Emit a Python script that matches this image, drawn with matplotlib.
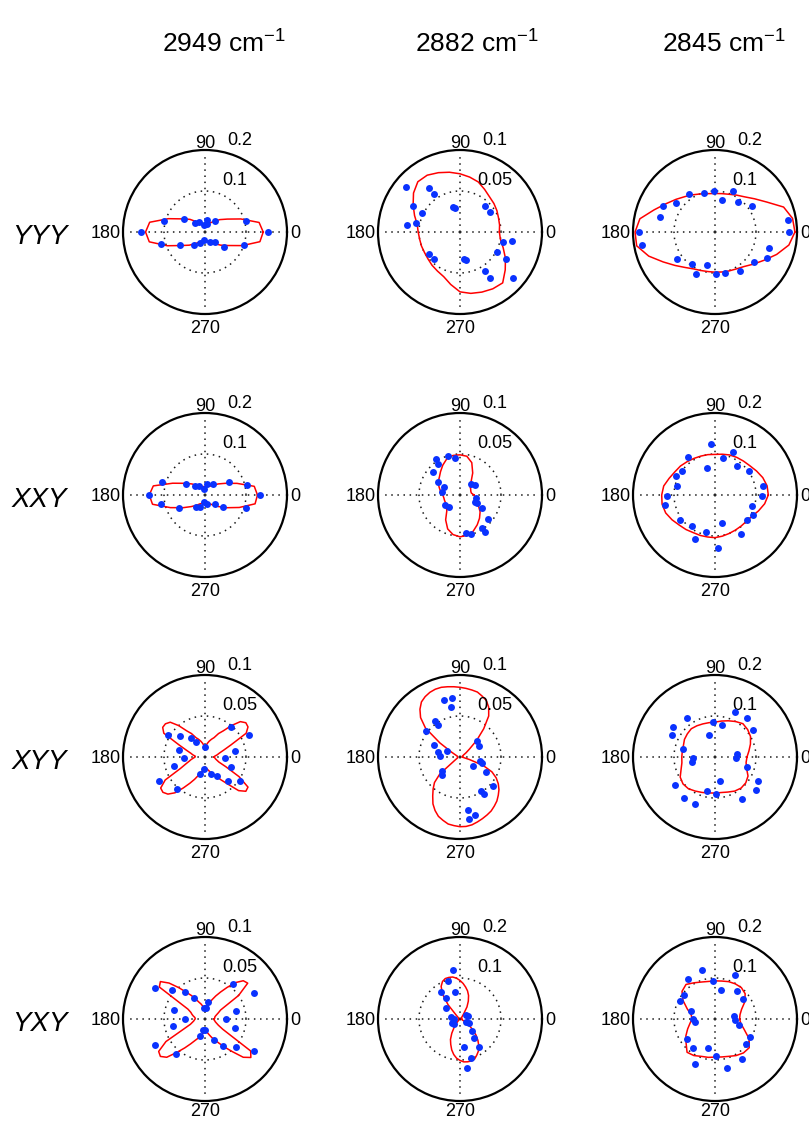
import numpy as np
import matplotlib
matplotlib.use('Agg')
import matplotlib.pyplot as plt

plt.rcParams['font.family'] = ['Liberation Sans', 'DejaVu Sans']
plt.rcParams['mathtext.fontset'] = 'custom'
plt.rcParams['mathtext.rm'] = 'Liberation Sans'
plt.rcParams['mathtext.it'] = 'Liberation Sans:italic'
plt.rcParams['mathtext.default'] = 'regular'

W, H = 809, 1121

# ---------------- categories ----------------
WAVENUMBERS = ['2949', '2882', '2845']
POLARIZATIONS = ['YYY', 'XXY', 'XYY', 'YXY']

# radial axis limits and radial tick labels per panel (row, col)
RMAX = [[0.2, 0.1, 0.2],
        [0.2, 0.1, 0.2],
        [0.1, 0.1, 0.2],
        [0.1, 0.2, 0.2]]
RTICK_OUTER = [['0.2', '0.1', '0.2'],
               ['0.2', '0.1', '0.2'],
               ['0.1', '0.1', '0.2'],
               ['0.1', '0.2', '0.2']]
RTICK_INNER = [['0.1', '0.05', '0.1'],
               ['0.1', '0.05', '0.1'],
               ['0.05', '0.05', '0.1'],
               ['0.05', '0.1', '0.1']]

# ---------------- measured points (angle in degrees, intensity) ----------------
ANG_2949_YYY = [180, 0, 165, 148, 137, 121, 82, 96, 49, 15, 195, 208, 231, 246, 265, 297, 315, 322, 342, 73]
R_2949_YYY = [0.157, 0.154, 0.103, 0.060, 0.033, 0.028, 0.029, 0.016, 0.037, 0.103, 0.111, 0.069, 0.042,
              0.030, 0.019, 0.027, 0.035, 0.060, 0.101, 0.020]

ANG_2882_YYY = [140, 125, 125, 151, 154, 172, 169, 105, 102, 46, 34, 347, 350, 331, 329, 303, 303, 319,
                215, 226, 279, 282]
R_2882_YYY = [0.086, 0.066, 0.056, 0.065, 0.052, 0.065, 0.055, 0.032, 0.030, 0.044, 0.044, 0.054, 0.064,
              0.051, 0.065, 0.057, 0.067, 0.086, 0.046, 0.046, 0.033, 0.035]

ANG_2845_YYY = [180, 190, 0, 9, 344, 333, 322, 303, 284, 271, 257, 245, 234, 216, 165, 154, 144, 125,
                105, 92, 78, 66, 53, 35]
R_2845_YYY = [0.185, 0.181, 0.181, 0.180, 0.138, 0.142, 0.120, 0.114, 0.102, 0.103, 0.083, 0.112, 0.096,
              0.114, 0.139, 0.142, 0.119, 0.112, 0.099, 0.099, 0.079, 0.109, 0.092, 0.110]

ANG_2949_XXY = [180, 0, 163, 192, 150, 138, 124, 99, 81, 53, 28, 13, 207, 233, 248, 262, 280, 318, 327, 342]
R_2949_XXY = [0.136, 0.134, 0.109, 0.110, 0.054, 0.033, 0.026, 0.016, 0.027, 0.034, 0.066, 0.106, 0.071,
              0.038, 0.032, 0.018, 0.022, 0.033, 0.053, 0.105]

ANG_2882_XXY = [124, 125, 107, 98, 140, 150, 153, 169, 214, 226, 43, 34, 348, 333, 334, 328, 319, 304,
                304, 279, 286]
R_2882_XXY = [0.053, 0.046, 0.050, 0.046, 0.043, 0.031, 0.022, 0.022, 0.022, 0.020, 0.019, 0.022, 0.020,
              0.020, 0.023, 0.031, 0.045, 0.048, 0.054, 0.047, 0.050]

ANG_2845_XXY = [94, 67, 78, 125, 106, 144, 154, 166, 181, 191, 216, 233, 246, 257, 273, 285, 304, 322,
                332, 344, 359, 10, 35, 53]
R_2845_XXY = [0.124, 0.113, 0.092, 0.114, 0.068, 0.100, 0.107, 0.095, 0.116, 0.123, 0.105, 0.094, 0.117,
              0.093, 0.129, 0.070, 0.115, 0.100, 0.105, 0.095, 0.115, 0.120, 0.101, 0.090]

ANG_2949_XYY = [149, 140, 127, 120, 90, 164, 184, 196, 208, 229, 254, 265, 291, 302, 314, 326, 339, 356,
                12, 26, 49]
R_2949_XYY = [0.052, 0.040, 0.029, 0.021, 0.012, 0.033, 0.026, 0.039, 0.063, 0.052, 0.022, 0.015, 0.022,
              0.028, 0.041, 0.052, 0.034, 0.024, 0.037, 0.060, 0.049]

ANG_2882_XYY = [106, 98, 100, 125, 124, 142, 155, 168, 176, 155, 43, 31, 350, 344, 326, 330, 319, 302,
                303, 279, 278, 285, 217, 226]
R_2882_XYY = [0.072, 0.073, 0.062, 0.053, 0.047, 0.052, 0.035, 0.027, 0.025, 0.017, 0.028, 0.027, 0.025,
              0.028, 0.019, 0.036, 0.053, 0.049, 0.054, 0.066, 0.076, 0.073, 0.028, 0.031]

ANG_2845_XYY = [66, 51, 35, 77, 93, 125, 144, 153, 105, 166, 182, 193, 215, 233, 247, 257, 272, 281,
                303, 321, 331, 343, 356, 7]
R_2845_XYY = [0.121, 0.123, 0.114, 0.080, 0.086, 0.117, 0.126, 0.119, 0.056, 0.080, 0.054, 0.058, 0.118,
              0.126, 0.125, 0.085, 0.091, 0.059, 0.121, 0.129, 0.120, 0.081, 0.052, 0.055]

ANG_2949_YXY = [148, 139, 126, 117, 95, 85, 79, 164, 181, 193, 207, 230, 254, 262, 270, 293, 304, 318,
                327, 343, 359, 14, 28, 51]
R_2949_YXY = [0.072, 0.053, 0.041, 0.029, 0.014, 0.014, 0.021, 0.039, 0.025, 0.040, 0.069, 0.055, 0.022,
              0.014, 0.014, 0.028, 0.040, 0.051, 0.071, 0.038, 0.026, 0.039, 0.067, 0.055]

ANG_2882_YXY = [98, 107, 125, 100, 124, 140, 167, 177, 207, 220, 31, 18, 333, 335, 315, 305, 304, 279,
                286, 278]
R_2882_YXY = [0.120, 0.097, 0.080, 0.067, 0.063, 0.043, 0.022, 0.014, 0.022, 0.020, 0.017, 0.021, 0.016,
              0.023, 0.041, 0.058, 0.082, 0.069, 0.098, 0.121]

ANG_2845_YXY = [105, 66, 124, 93, 79, 51, 36, 143, 153, 162, 180, 189, 8, 358, 216, 232, 246, 257, 272,
                284, 304, 321, 332, 345]
R_2845_YXY = [0.123, 0.118, 0.119, 0.092, 0.071, 0.087, 0.085, 0.096, 0.096, 0.062, 0.053, 0.049, 0.048,
              0.050, 0.085, 0.089, 0.119, 0.072, 0.091, 0.123, 0.119, 0.096, 0.096, 0.061]

# ---------------- fitted curves (intensity read at fixed angles) ----------------
FIT_DEG10 = list(range(0, 360, 10))
FIT_DEG5 = list(range(0, 360, 5))

FIT_2949_YYY = [0.142, 0.134, 0.093, 0.063, 0.047, 0.033, 0.026, 0.022, 0.020, 0.019, 0.020, 0.022,
                0.026, 0.033, 0.048, 0.064, 0.095, 0.137, 0.145, 0.138, 0.098, 0.066, 0.050, 0.037,
                0.029, 0.025, 0.023, 0.022, 0.023, 0.025, 0.029, 0.037, 0.050, 0.066, 0.097, 0.136]
FIT_2882_YYY = [0.048, 0.049, 0.050, 0.052, 0.054, 0.056, 0.060, 0.065, 0.068, 0.071, 0.074, 0.077,
                0.080, 0.080, 0.074, 0.066, 0.059, 0.053, 0.051, 0.050, 0.050, 0.050, 0.051, 0.053,
                0.055, 0.058, 0.065, 0.073, 0.076, 0.078, 0.080, 0.081, 0.072, 0.064, 0.056, 0.050]
FIT_2845_YYY = [0.195, 0.192, 0.178, 0.146, 0.126, 0.112, 0.104, 0.098, 0.095, 0.094, 0.095, 0.099,
                0.105, 0.113, 0.124, 0.138, 0.158, 0.186, 0.195, 0.194, 0.172, 0.146, 0.127, 0.113,
                0.104, 0.100, 0.098, 0.098, 0.099, 0.101, 0.104, 0.110, 0.122, 0.138, 0.160, 0.183]
FIT_2949_XXY = [0.128, 0.122, 0.083, 0.057, 0.042, 0.031, 0.025, 0.022, 0.021, 0.020, 0.021, 0.022,
                0.025, 0.031, 0.042, 0.057, 0.084, 0.128, 0.136, 0.130, 0.090, 0.062, 0.044, 0.033,
                0.025, 0.022, 0.021, 0.020, 0.021, 0.022, 0.025, 0.033, 0.044, 0.062, 0.089, 0.124]
FIT_2882_XXY = [0.017, 0.014, 0.014, 0.015, 0.016, 0.021, 0.031, 0.042, 0.048, 0.049, 0.049, 0.047,
                0.042, 0.037, 0.033, 0.031, 0.027, 0.024, 0.021, 0.020, 0.020, 0.020, 0.022, 0.025,
                0.035, 0.044, 0.049, 0.051, 0.050, 0.047, 0.042, 0.037, 0.032, 0.026, 0.021, 0.019]
FIT_2845_XXY = [0.130, 0.129, 0.124, 0.117, 0.111, 0.108, 0.106, 0.104, 0.101, 0.099, 0.100, 0.101,
                0.103, 0.106, 0.110, 0.113, 0.119, 0.127, 0.130, 0.131, 0.128, 0.121, 0.114, 0.110,
                0.106, 0.105, 0.104, 0.104, 0.102, 0.100, 0.099, 0.099, 0.100, 0.104, 0.113, 0.123]
FIT_2949_XYY = [0.011, 0.012, 0.015, 0.018, 0.024, 0.035, 0.058, 0.064, 0.065, 0.061, 0.050, 0.039,
                0.033, 0.026, 0.023, 0.020, 0.017, 0.014,
                0.011, 0.014, 0.017, 0.020, 0.023, 0.026, 0.033, 0.039, 0.050, 0.060, 0.063, 0.063,
                0.058, 0.035, 0.024, 0.018, 0.015, 0.012,
                0.012, 0.014, 0.017, 0.020, 0.025, 0.033, 0.056, 0.066, 0.067, 0.064, 0.057, 0.046,
                0.037, 0.030, 0.024, 0.020, 0.017, 0.014,
                0.012, 0.013, 0.015, 0.017, 0.020, 0.022, 0.027, 0.034, 0.043, 0.058, 0.065, 0.064,
                0.048, 0.028, 0.018, 0.015, 0.013, 0.012]
FIT_2882_XYY = [0.003, 0.003, 0.003, 0.003, 0.003, 0.004, 0.005, 0.009, 0.015, 0.029, 0.045, 0.061,
                0.070, 0.076, 0.079, 0.082, 0.083, 0.084,
                0.085, 0.086, 0.087, 0.088, 0.088, 0.087, 0.085, 0.082, 0.076, 0.068, 0.055, 0.030,
                0.012, 0.006, 0.004, 0.003, 0.003, 0.003,
                0.003, 0.003, 0.003, 0.003, 0.003, 0.004, 0.006, 0.010, 0.032, 0.044, 0.051, 0.058,
                0.066, 0.072, 0.077, 0.080, 0.083, 0.084,
                0.085, 0.085, 0.084, 0.082, 0.080, 0.078, 0.076, 0.073, 0.070, 0.066, 0.062, 0.057,
                0.051, 0.043, 0.030, 0.012, 0.005, 0.003]
FIT_2845_XYY = [0.078, 0.084, 0.092, 0.100, 0.104, 0.106, 0.100, 0.094, 0.089, 0.085, 0.085, 0.086,
                0.088, 0.090, 0.088, 0.086, 0.082, 0.081, 0.081, 0.082, 0.088, 0.098, 0.102, 0.101,
                0.096, 0.092, 0.089, 0.088, 0.088, 0.091, 0.096, 0.099, 0.098, 0.093, 0.082, 0.077]
FIT_2949_YXY = [0.011, 0.012, 0.012, 0.013, 0.015, 0.018, 0.022, 0.050, 0.068, 0.066, 0.058, 0.047,
                0.038, 0.031, 0.025, 0.020, 0.016, 0.014,
                0.013, 0.014, 0.016, 0.019, 0.022, 0.027, 0.033, 0.040, 0.050, 0.062, 0.071, 0.068,
                0.024, 0.019, 0.017, 0.015, 0.013, 0.012,
                0.012, 0.013, 0.014, 0.016, 0.019, 0.028, 0.055, 0.069, 0.071, 0.066, 0.053, 0.043,
                0.035, 0.029, 0.025, 0.022, 0.019, 0.016,
                0.014, 0.015, 0.017, 0.020, 0.024, 0.028, 0.034, 0.042, 0.052, 0.066, 0.073, 0.068,
                0.025, 0.018, 0.015, 0.013, 0.012, 0.011]
FIT_2882_YXY = [0.004, 0.004, 0.004, 0.004, 0.004, 0.004, 0.004, 0.004, 0.005, 0.006, 0.009, 0.016,
                0.034, 0.048, 0.061, 0.071, 0.079, 0.087,
                0.094, 0.100, 0.104, 0.105, 0.105, 0.101, 0.092, 0.075, 0.045, 0.012, 0.006, 0.005,
                0.004, 0.004, 0.004, 0.004, 0.004, 0.004,
                0.004, 0.004, 0.004, 0.004, 0.004, 0.004, 0.004, 0.005, 0.005, 0.006, 0.012, 0.025,
                0.040, 0.055, 0.066, 0.078, 0.088, 0.096,
                0.101, 0.105, 0.106, 0.106, 0.104, 0.097, 0.090, 0.080, 0.068, 0.055, 0.040, 0.028,
                0.016, 0.008, 0.005, 0.004, 0.004, 0.004]
FIT_2845_YXY = [0.060, 0.062, 0.069, 0.084, 0.096, 0.100, 0.099, 0.097, 0.094, 0.093, 0.093, 0.096,
                0.102, 0.110, 0.105, 0.090, 0.072, 0.059, 0.056, 0.062, 0.071, 0.082, 0.092, 0.106,
                0.103, 0.097, 0.095, 0.093, 0.094, 0.097, 0.103, 0.108, 0.109, 0.096, 0.076, 0.064]

PANELS = [
    [(ANG_2949_YYY, R_2949_YYY, FIT_DEG10, FIT_2949_YYY),
     (ANG_2882_YYY, R_2882_YYY, FIT_DEG10, FIT_2882_YYY),
     (ANG_2845_YYY, R_2845_YYY, FIT_DEG10, FIT_2845_YYY)],
    [(ANG_2949_XXY, R_2949_XXY, FIT_DEG10, FIT_2949_XXY),
     (ANG_2882_XXY, R_2882_XXY, FIT_DEG10, FIT_2882_XXY),
     (ANG_2845_XXY, R_2845_XXY, FIT_DEG10, FIT_2845_XXY)],
    [(ANG_2949_XYY, R_2949_XYY, FIT_DEG5, FIT_2949_XYY),
     (ANG_2882_XYY, R_2882_XYY, FIT_DEG5, FIT_2882_XYY),
     (ANG_2845_XYY, R_2845_XYY, FIT_DEG10, FIT_2845_XYY)],
    [(ANG_2949_YXY, R_2949_YXY, FIT_DEG5, FIT_2949_YXY),
     (ANG_2882_YXY, R_2882_YXY, FIT_DEG5, FIT_2882_YXY),
     (ANG_2845_YXY, R_2845_YXY, FIT_DEG10, FIT_2845_YXY)],
]

# ---------------- layout (pixels) ----------------
COL_X = [205, 460, 715]
ROW_Y = [232, 495, 757, 1019]
RAD = 82
TITLE_X = [224, 477, 724]
TITLE_BASE_Y = 53
LABEL_X = 12
LABEL_270_DY = [101, 101, 101, 97]

fig = plt.figure(figsize=(W / 100, H / 100), dpi=100)

GRID_KW = dict(color='#1a1a1a', lw=1.1, linestyle=(0, (1, 3.0)))
TXT = 13

for i in range(4):
    for j in range(3):
        cx, cy = COL_X[j], ROW_Y[i]
        rect = [(cx - RAD) / W, 1 - (cy + RAD) / H, 2 * RAD / W, 2 * RAD / H]
        ax = fig.add_axes(rect, projection='polar')
        rmax = RMAX[i][j]
        ax.set_ylim(0, rmax)
        ax.set_xticks([])
        ax.set_yticks([])
        ax.grid(False)
        ax.spines['polar'].set_linewidth(1.6)
        ax.spines['polar'].set_color('black')

        # dotted guides
        tc = np.linspace(0, 2 * np.pi, 240)
        ax.plot(tc, np.full_like(tc, rmax / 2), **GRID_KW)
        for a in (0, 90, 180, 270):
            ax.plot([np.deg2rad(a)] * 2, [0, 0.92 * rmax], **GRID_KW)

        ang, rr, fdeg, fit = PANELS[i][j]
        th_fit = np.deg2rad(np.array(list(fdeg) + [fdeg[0]], dtype=float))
        r_fit = np.array(list(fit) + [fit[0]])
        ax.plot(th_fit, r_fit, color='#ff0000', lw=1.1, zorder=3)
        ax.plot(np.deg2rad(ang), rr, 'o', color='#0a32ff', ms=5.0, mew=0, zorder=4,
                clip_on=False)

        # angle labels
        ax.text(0.5, 0.5 + 84 / 164, '90', transform=ax.transAxes, ha='center',
                va='baseline', fontsize=TXT)
        ax.text(0.5, 0.5 - LABEL_270_DY[i] / 164, '270', transform=ax.transAxes, ha='center',
                va='baseline', fontsize=TXT)
        ax.text(0.5 + 85 / 164, 0.5 - 6 / 164, '0', transform=ax.transAxes, ha='left',
                va='baseline', fontsize=TXT)
        ax.text(0.5 - 84 / 164, 0.5 - 6 / 164, '180', transform=ax.transAxes, ha='right',
                va='baseline', fontsize=TXT)
        # radial labels
        ax.text(0.5 + 22 / 164, 0.5 + 87 / 164, RTICK_OUTER[i][j], transform=ax.transAxes,
                ha='left', va='baseline', fontsize=TXT)
        ax.text(0.5 + 17 / 164, 0.5 + 47 / 164, RTICK_INNER[i][j], transform=ax.transAxes,
                ha='left', va='baseline', fontsize=TXT)

for j, wn in enumerate(WAVENUMBERS):
    fig.text(TITLE_X[j] / W, 1 - TITLE_BASE_Y / H, wn + r' cm$^{-1}$', ha='center',
             va='baseline', fontsize=19)

for i, pol in enumerate(POLARIZATIONS):
    fig.text(LABEL_X / W, 1 - (ROW_Y[i] + 12) / H, pol, ha='left', va='baseline',
             fontsize=20, style='italic')

fig.savefig('out.png', dpi=100)
